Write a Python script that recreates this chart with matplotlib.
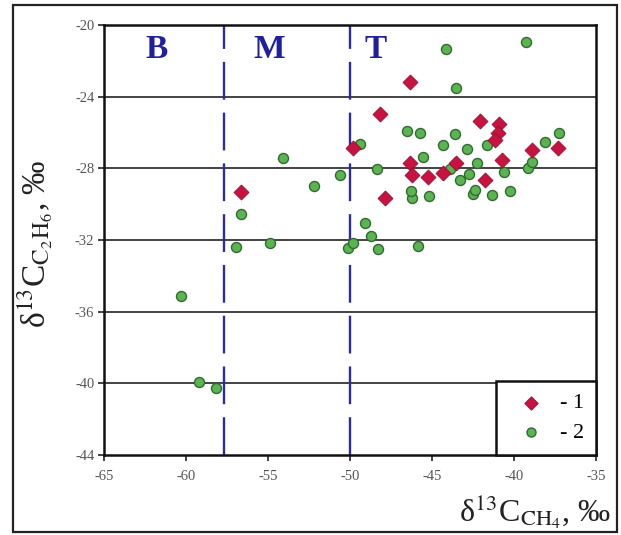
import matplotlib
matplotlib.use("Agg")
import matplotlib.pyplot as plt
from matplotlib.patches import Rectangle

plt.rcParams['font.family'] = ['Liberation Serif', 'DejaVu Serif']
plt.rcParams['mathtext.fontset'] = 'stix'

# Series 1 (red diamonds)
s1_x = [-46.34, -48.17, -42.07, -40.90, -40.96, -41.16, -49.84, -38.93, -37.30,
        -40.75, -43.54, -46.34, -46.24, -45.22, -44.35, -41.77, -47.87, -56.67]
s1_y = [-23.20, -24.97, -25.36, -25.53, -26.02, -26.42, -26.85, -26.95, -26.89,
        -27.55, -27.68, -27.68, -28.38, -28.50, -28.28, -28.64, -29.63, -29.31]

# Series 2 (green circles)
s2_x = [-44.17, -39.27, -43.54, -54.10, -52.18, -50.61, -56.67, -49.39, -48.37,
        -46.50, -45.73, -45.53, -44.31, -43.60, -42.89, -42.28, -42.72, -43.30,
        -41.67, -40.61, -40.24, -41.36, -42.48, -42.40, -45.16, -46.24, -46.28,
        -38.11, -37.26, -39.13, -38.93, -43.90, -56.95, -54.88, -50.10, -49.80,
        -49.09, -48.74, -48.27, -45.83, -60.30, -59.20, -58.20]
s2_y = [-21.36, -20.95, -23.54, -27.40, -29.00, -28.38, -30.55, -26.65, -28.05,
        -25.92, -26.03, -27.38, -26.68, -26.08, -26.90, -27.70, -28.30, -28.66,
        -26.68, -28.20, -29.28, -29.50, -29.45, -29.20, -29.54, -29.66, -29.25,
        -26.52, -26.01, -28.00, -27.64, -28.05, -32.40, -32.16, -32.44, -32.16,
        -31.04, -31.80, -32.48, -32.33, -35.15, -39.95, -40.27]

zone_bounds = [-57.7, -50.0]
zone_labels = ['B', 'M', 'T']
zone_label_x = [-61.8, -54.9, -48.45]
zone_label_y = -21.35

x_ticks = [-65, -60, -55, -50, -45, -40, -35]
y_ticks = [-20, -24, -28, -32, -36, -40, -44]
legend_labels = ['- 1', '- 2']

W, H = 621, 535
fig = plt.figure(figsize=(W / 100, H / 100), dpi=100)
ax = fig.add_axes([104 / W, 1 - 455 / H, 492 / W, 430 / H])

# outer frame
fig.patches.append(Rectangle((13 / W, 3 / H), 604 / W, 527 / H, transform=fig.transFigure,
                             fill=False, lw=1.6, ec='#222222'))

ax.set_xlim(-65, -35)
ax.set_ylim(-44, -20)
ax.set_xticks(x_ticks)
ax.set_yticks(y_ticks)
ax.set_xticklabels([str(t) for t in x_ticks])
ax.set_yticklabels([str(t) for t in y_ticks])
ax.tick_params(direction='out', length=4, width=1.2, colors='#222222',
               labelcolor='#555555', labelsize=10.5)
ax.tick_params(axis='x', pad=7)
ax.tick_params(axis='y', pad=3)
for sp in ax.spines.values():
    sp.set_linewidth(1.8)
    sp.set_color('#111111')

for yv in y_ticks[1:-1]:
    ax.axhline(yv, color='#222222', lw=1.2, zorder=1)

for xb in zone_bounds:
    ax.axvline(xb, color='#2b2ba8', lw=1.7, ls=(0, (16, 5.5)), zorder=2)

for lab, lx in zip(zone_labels, zone_label_x):
    ax.text(lx, zone_label_y, lab, color='#1f1fa0', fontsize=24, fontweight='bold',
            ha='center', va='center', zorder=3)

h1 = ax.scatter(s1_x, s1_y, marker='D', s=58, c='#c8123f', edgecolors='#9a0d30',
                linewidths=0.6, zorder=5, label=legend_labels[0])
h2 = ax.scatter(s2_x, s2_y, marker='o', s=52, c='#5bb451', edgecolors='#2f6a2f',
                linewidths=1.0, zorder=4, label=legend_labels[1])

leg = ax.legend(handles=[h1, h2], labels=legend_labels, loc='lower right',
                bbox_to_anchor=(1.0, 0.0), borderaxespad=0, fancybox=False,
                framealpha=1, edgecolor='#111111', fontsize=16, handletextpad=0.3,
                borderpad=0.55, labelspacing=0.4, handlelength=2.0, scatterpoints=1,
                markerscale=0.9)
leg.get_frame().set_linewidth(1.8)
leg.set_zorder(10)

fig.text(35 / W, 1 - 244 / H, 'δ$^{13}$C$_{\\mathrm{C_2H_6}}$, ‰', rotation=90,
         ha='center', va='center', fontsize=24, color='#222222')
fig.text(611 / W, 1 - 512 / H, 'δ$^{13}$C$_{\\mathrm{CH_4}}$, ‰',
         ha='right', va='center', fontsize=23, color='#222222')

fig.savefig('out.png', dpi=100)
